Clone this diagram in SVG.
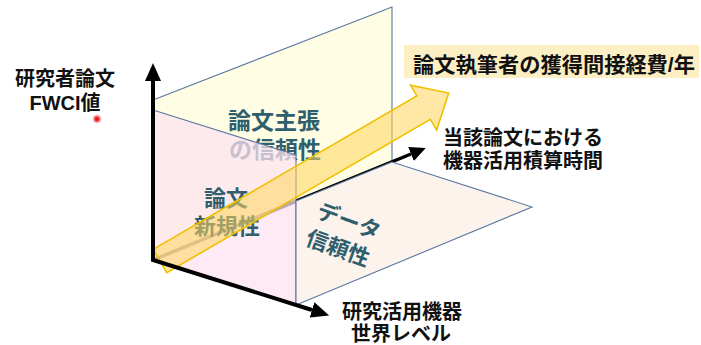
<svg xmlns="http://www.w3.org/2000/svg" width="701" height="345" viewBox="0 0 701 345">
<style>
.pl{stroke:#5A78A0;stroke-width:1.1}
.tl{font-family:"Liberation Sans","Noto Sans CJK JP",sans-serif;font-weight:bold;fill:#2F5E6C;text-anchor:middle}
.lb{font-family:"Liberation Sans","Noto Sans CJK JP",sans-serif;font-weight:bold;fill:#111;text-anchor:middle}
.ax{fill:none;stroke:#000;stroke-width:4;stroke-linejoin:miter}
</style>
<defs>
<marker id="ah" markerUnits="userSpaceOnUse" markerWidth="18" markerHeight="16" refX="0" refY="8" orient="auto-start-reverse" viewBox="0 0 18 16">
<path d="M0,0 L18,8 L0,16 z" fill="#000"/>
</marker>
<marker id="ah2" markerUnits="userSpaceOnUse" markerWidth="16" markerHeight="15" refX="0" refY="7.5" orient="auto" viewBox="0 0 16 15">
<path d="M0,0 L16,7.5 L0,15 z" fill="#000"/>
</marker>
<radialGradient id="dot">
<stop offset="0" stop-color="#E8001A"/>
<stop offset="0.4" stop-color="#F2303A"/>
<stop offset="1" stop-color="#FF8080" stop-opacity="0"/>
</radialGradient>
</defs>

<g id="plane-yellow">
<polygon class="pl" points="153,100 392,7 392,162 153,260" fill="#FFFDE4"/>
<text class="tl" x="274" y="129" font-size="23">論文主張</text>
<text class="tl" x="275" y="158" font-size="23">の信頼性</text>
</g>

<g id="connectors">
<line x1="153" y1="260" x2="411" y2="154" stroke="#000" stroke-width="3.5" marker-end="url(#ah2)"/>
</g>

<g id="plane-pink">
<polygon class="pl" points="153,110 296,155 296,305 153,260" fill="#FCE3F0" fill-opacity="0.74"/>
<text class="tl" x="226" y="206" font-size="22">論文</text>
<text class="tl" x="227" y="234" font-size="22">新規性</text>
</g>

<g id="plane-floor">
<polygon class="pl" points="296,305 532,207 392,162 296,201" fill="#FBF3EC"/>
<text class="tl" x="349" y="229" font-size="22" transform="rotate(20 349 221)">データ</text>
<text class="tl" x="338" y="256" font-size="22" transform="rotate(20 338 248)">信頼性</text>
</g>

<g id="arrow-big">
<polygon transform="translate(160,261) rotate(-30.2)" points="0,-13.5 305,-13.5 305,-26 334,0 305,26 305,13.5 0,13.5" fill="#FFD55C" fill-opacity="0.55" stroke="#F0C000" stroke-width="1.6" stroke-linejoin="miter"/>
</g>

<g id="axes">
<path class="ax" d="M153,81 L153,260 L312,310" marker-start="url(#ah)" marker-end="url(#ah)"/>
</g>

<g id="label-y">
<text class="lb" x="65" y="86" font-size="20">研究者論文</text>
<text class="lb" x="65" y="110" font-size="20">FWCI値</text>
<circle cx="97" cy="119" r="5" fill="url(#dot)"/>
</g>

<g id="label-arrow">
<rect x="404" y="45" width="295" height="33" fill="#FCEFC4"/>
<text class="lb" x="413" y="72" font-size="21" textLength="282" lengthAdjust="spacingAndGlyphs" style="text-anchor:start">論文執筆者の獲得間接経費/年</text>
</g>

<g id="label-depth">
<text class="lb" x="523" y="145" font-size="20">当該論文における</text>
<text class="lb" x="523" y="168" font-size="20">機器活用積算時間</text>
</g>

<g id="label-x">
<text class="lb" x="402" y="319" font-size="20">研究活用機器</text>
<text class="lb" x="401" y="341" font-size="20">世界レベル</text>
</g>
</svg>
